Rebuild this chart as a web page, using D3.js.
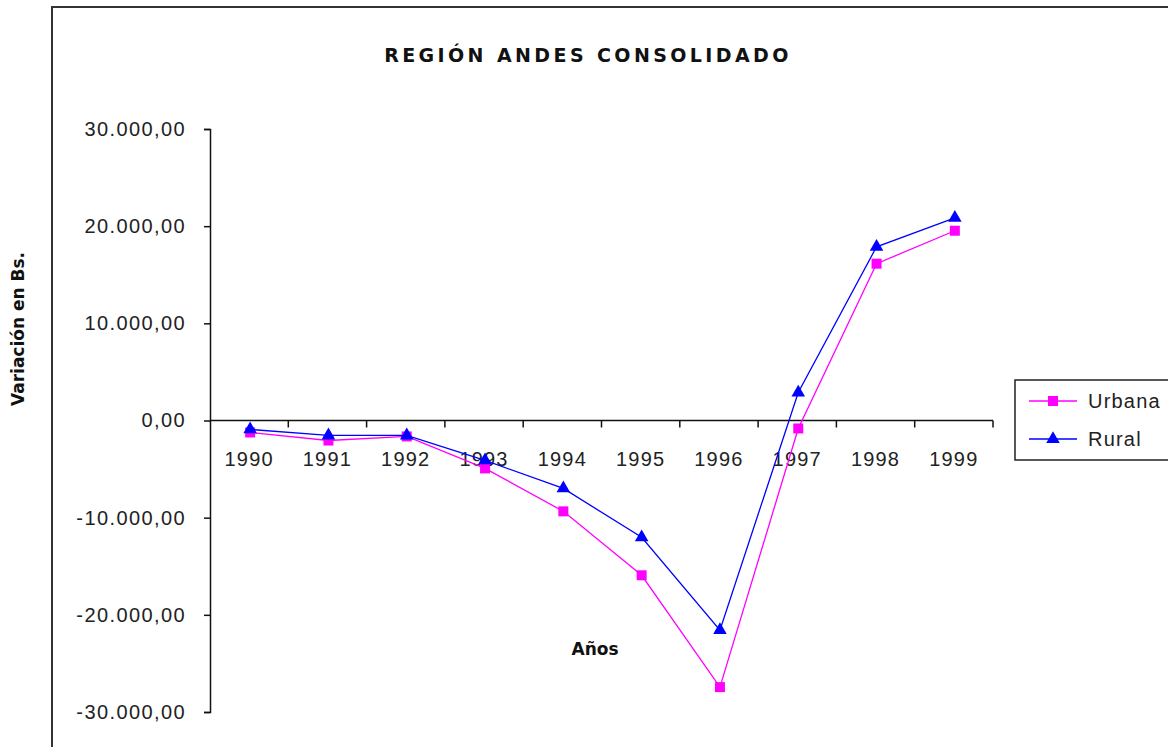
<!DOCTYPE html>
<html>
<head>
<meta charset="utf-8">
<script src="https://cdn.jsdelivr.net/npm/d3@7"></script>
<style>
  body { margin: 0; background: #fff; }
  svg { display: block; }
</style>
</head>
<body>
<div id="chart"></div>
<script>
var years = ["1990","1991","1992","1993","1994","1995","1996","1997","1998","1999"];
var urbana = [-1230, -2060, -1640, -4930, -9350, -15930, -27440, -820, 16140, 19530];
var rural  = [-920, -1540, -1540, -4110, -6990, -12020, -21580, 2880, 17880, 20860];
var yTicks = [30000, 20000, 10000, 0, -10000, -20000, -30000];
var seriesNames = ["Urbana", "Rural"];

var W = 1168, H = 747;
var plot = {left: 210, right: 993, top: 129, bottom: 712};

var svg = d3.select("#chart").append("svg").attr("width", W).attr("height", H);

// outer frame (runs off the right and bottom edges)
svg.append("rect").attr("x", 52).attr("y", 7).attr("width", W).attr("height", H)
   .attr("fill", "none").attr("stroke", "#333").attr("stroke-width", 2);

svg.append("text").attr("x", 588).attr("y", 62)
   .attr("text-anchor", "middle").attr("font-family", "Verdana, 'DejaVu Sans', sans-serif")
   .attr("font-weight", "bold").attr("font-size", 19).attr("letter-spacing", 3.4)
   .attr("fill", "#111").text("REGIÓN ANDES CONSOLIDADO");

var x = d3.scaleBand().domain(years).range([plot.left, plot.right]);
var y = d3.scaleLinear().domain([-30000, 30000]).range([plot.bottom, plot.top]);

var fmt = function(v) {
  var s = d3.format(",.2f")(v);
  return s.replace(/,/g, "#").replace(".", ",").replace(/#/g, ".").replace("−", "-");
};

var tickFont = "'Liberation Sans', Arial, sans-serif";

// y axis
var yAxis = svg.append("g").attr("transform", "translate(" + plot.left + ",0)")
   .call(d3.axisLeft(y).tickValues(yTicks).tickSize(6).tickPadding(18).tickFormat(fmt));
yAxis.select(".domain").attr("stroke", "#111").attr("stroke-width", 1.5);
yAxis.selectAll(".tick line").attr("stroke", "#111").attr("stroke-width", 1.5);
yAxis.selectAll("text").attr("font-family", tickFont)
   .attr("font-size", 20).attr("letter-spacing", 1.4).attr("fill", "#222");

// x axis at zero, ticks between categories
var xg = svg.append("g").attr("transform", "translate(0," + y(0) + ")");
xg.append("line").attr("x1", plot.left).attr("x2", plot.right).attr("stroke", "#111").attr("stroke-width", 1.5);
var bounds = years.map(function(d){ return x(d) + x.bandwidth(); });
xg.selectAll(".xt").data(bounds).enter().append("line").attr("class", "xt")
   .attr("x1", function(d){ return d; }).attr("x2", function(d){ return d; })
   .attr("y1", 0).attr("y2", 7).attr("stroke", "#111").attr("stroke-width", 1.5);
xg.selectAll(".xl").data(years).enter().append("text").attr("class", "xl")
   .attr("x", function(d){ return x(d) + x.bandwidth()/2; }).attr("y", 45)
   .attr("text-anchor", "middle").attr("font-family", tickFont)
   .attr("font-size", 20).attr("letter-spacing", 1.2).attr("fill", "#222").text(function(d){ return d; });

// axis titles
svg.append("text").attr("transform", "translate(24,329) rotate(-90)")
   .attr("text-anchor", "middle").attr("font-family", "Verdana, 'DejaVu Sans', sans-serif")
   .attr("font-weight", "bold").attr("font-size", 17).attr("fill", "#111").text("Variación en Bs.");
svg.append("text").attr("x", 595).attr("y", 655)
   .attr("text-anchor", "middle").attr("font-family", "Verdana, 'DejaVu Sans', sans-serif")
   .attr("font-weight", "bold").attr("font-size", 17).attr("fill", "#111").text("Años");

var cx = function(i){ return x(years[i]) + x.bandwidth()/2 + 1; };
var line = d3.line().x(function(d, i){ return cx(i); }).y(function(d){ return y(d); });

var series = [
  {name: "Urbana", values: urbana, color: "#ff00ff", symbol: d3.symbolSquare, size: 100},
  {name: "Rural", values: rural, color: "#0000ff", symbol: d3.symbolTriangle, size: 80}
];

series.forEach(function(s) {
  svg.append("path").datum(s.values).attr("d", line)
     .attr("fill", "none").attr("stroke", s.color).attr("stroke-width", 1.3);
  svg.selectAll(".m-" + s.name).data(s.values).enter().append("path")
     .attr("class", "m-" + s.name)
     .attr("transform", function(d, i){ return "translate(" + cx(i) + "," + y(d) + ")"; })
     .attr("d", d3.symbol().type(s.symbol).size(s.size)).attr("fill", s.color);
});

// legend
var lg = svg.append("g").attr("transform", "translate(1015,380)");
lg.append("rect").attr("width", 200).attr("height", 80).attr("fill", "#fff")
  .attr("stroke", "#222").attr("stroke-width", 1.5);
series.forEach(function(s, i) {
  var yy = 21 + i * 38;
  lg.append("line").attr("x1", 14).attr("x2", 62).attr("y1", yy).attr("y2", yy)
    .attr("stroke", s.color).attr("stroke-width", 1.3);
  lg.append("path").attr("transform", "translate(38," + yy + ")")
    .attr("d", d3.symbol().type(s.symbol).size(s.size)).attr("fill", s.color);
  lg.append("text").attr("x", 73).attr("y", yy + 7)
    .attr("font-family", tickFont).attr("font-size", 20)
    .attr("letter-spacing", 1.2).attr("fill", "#222").text(seriesNames[i]);
});
</script>
</body>
</html>
